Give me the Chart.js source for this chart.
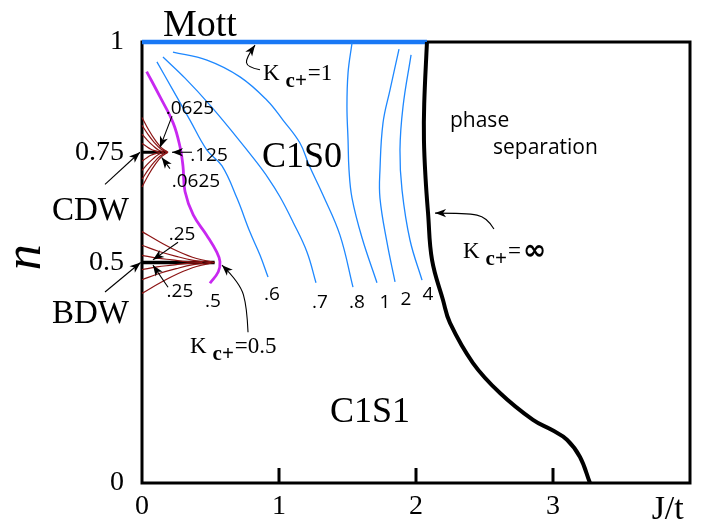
<!DOCTYPE html>
<html><head><meta charset="utf-8">
<script src="https://cdn.jsdelivr.net/npm/chart.js@4"></script>
<style>html,body{margin:0;padding:0;background:#fff}</style>
</head><body>
<canvas id="c" width="701" height="530"></canvas>
<script>
// ---- axes ----
const xTicks = [0, 1, 2, 3];
const yTicks = [0, 0.5, 0.75, 1];
const yTickText = ['0', '0.5', '0.75', '1'];

// ---- phase boundaries ----
const mottLine = [[0, 1], [2.08, 1]];
const separationBoundary = [[2.08,1.0],[2.06,0.86],[2.058,0.778],[2.07,0.69],[2.088,0.612],[2.117,0.506],[2.197,0.415],[2.248,0.363],[2.416,0.272],[2.613,0.204],[2.854,0.143],[2.993,0.120],[3.102,0.098],[3.197,0.059],[3.270,0.0]];
const cdwLine = [[0, 0.75], [0.18, 0.75]];
const bdwLine = [[0, 0.5], [0.53, 0.5]];

// ---- K_c+ contours ----
const kHalf = [[0.034,0.933],[0.131,0.876],[0.228,0.816],[0.277,0.763],[0.299,0.719],[0.314,0.661],[0.374,0.608],[0.472,0.562],[0.545,0.524],[0.569,0.502],[0.557,0.479],[0.496,0.453]];
const k06 = [[0.109,0.955],[0.226,0.891],[0.350,0.823],[0.474,0.755],[0.584,0.719],[0.693,0.646],[0.788,0.569],[0.861,0.517],[0.920,0.467]];
const k07 = [[0.153,0.966],[0.314,0.918],[0.496,0.857],[0.679,0.789],[0.825,0.732],[0.920,0.692],[1.007,0.649],[1.102,0.592],[1.204,0.524],[1.270,0.454]];
const k08 = [[0.226,0.977],[0.474,0.959],[0.715,0.921],[0.912,0.868],[1.029,0.823],[1.153,0.771],[1.219,0.721],[1.321,0.653],[1.445,0.562],[1.540,0.444]];
const k1 = [[1.533,0.998],[1.504,0.930],[1.496,0.853],[1.504,0.778],[1.511,0.710],[1.533,0.646],[1.606,0.556],[1.715,0.454]];
const k2 = [[1.876,0.984],[1.810,0.891],[1.759,0.816],[1.737,0.710],[1.737,0.646],[1.788,0.546],[1.847,0.456]];
const k4 = [[1.964,0.971],[1.905,0.853],[1.883,0.755],[1.898,0.664],[1.956,0.551],[2.044,0.460]];

// ---- order-parameter flow lines near CDW (n=0.75) and BDW (n=0.5) ----
const cdwCurves = [
  [[0,0.829],[0.048,0.801],[0.095,0.778],[0.143,0.760],[0.19,0.75]],
  [[0,0.811],[0.045,0.790],[0.090,0.772],[0.135,0.758],[0.18,0.75]],
  [[0,0.791],[0.040,0.777],[0.080,0.765],[0.120,0.755],[0.16,0.75]],
  [[0,0.770],[0.033,0.763],[0.065,0.757],[0.098,0.753],[0.13,0.75]],
  [[0,0.730],[0.033,0.737],[0.065,0.743],[0.098,0.747],[0.13,0.75]],
  [[0,0.709],[0.040,0.723],[0.080,0.735],[0.120,0.745],[0.16,0.75]],
  [[0,0.689],[0.045,0.710],[0.090,0.728],[0.135,0.742],[0.18,0.75]],
  [[0,0.671],[0.048,0.699],[0.095,0.722],[0.143,0.740],[0.19,0.75]]
];
const bdwCurves = [
  [[0,0.570],[0.133,0.546],[0.265,0.525],[0.398,0.509],[0.53,0.5]],
  [[0,0.539],[0.125,0.525],[0.250,0.514],[0.375,0.505],[0.50,0.5]],
  [[0,0.516],[0.110,0.510],[0.220,0.506],[0.330,0.502],[0.44,0.5]],
  [[0,0.484],[0.110,0.490],[0.220,0.494],[0.330,0.498],[0.44,0.5]],
  [[0,0.461],[0.125,0.475],[0.250,0.486],[0.375,0.495],[0.50,0.5]],
  [[0,0.430],[0.133,0.454],[0.265,0.475],[0.398,0.491],[0.53,0.5]]
];

// ---- text labels (data coords, alphabetic baseline) ----
const serifTexts = [
  ['Mott', 0.153, 1.014, 38], ['C1S0', 0.876, 0.717, 36], ['C1S1', 1.372, 0.139, 36],
  ['CDW', -0.657, 0.596, 33], ['BDW', -0.657, 0.362, 33]
];
const sansTexts = [
  ['phase', 2.248, 0.808, 'left'], ['separation', 2.562, 0.746, 'left']
];
const valueLabels = [
  ['.5',0.518,0.399],['.6',0.949,0.415],['.7',1.299,0.397],['.8',1.569,0.397],['1',1.774,0.397],['2',1.927,0.404],['4',2.088,0.415],
  ['.0625',0.350,0.836],['.125',0.489,0.730],['.0625',0.394,0.671],['.25',0.292,0.551],['.25',0.277,0.422]
];
const kLabels = [['=1', 0.883, 0.914], ['=', 2.343, 0.510, '∞'], ['=0.5', 0.350, 0.295]];
const arrows = [
  [[0.861,0.937],[0.766,0.943],[0.759,0.964],[0.825,0.993]],
  [[2.569,0.576],[2.518,0.603],[2.372,0.612],[2.139,0.612]],
  [[0.774,0.342],[0.766,0.399],[0.715,0.454],[0.584,0.494]],
  [[-0.27,0.677],[-0.015,0.75]],
  [[-0.27,0.433],[-0.01,0.5]],
  [[0.219,0.832],[0.131,0.761]],
  [[0.365,0.75],[0.219,0.75]],
  [[0.204,0.713],[0.144,0.738]],
  [[0.263,0.546],[0.080,0.506]],
  [[0.190,0.444],[0.080,0.494]]
];

const pts = a => a.map(([x, y]) => ({x, y}));
const line = (a, color, w, extra) => Object.assign({data: pts(a), borderColor: color, borderWidth: w, showLine: true, pointRadius: 0, fill: false, clip: false, tension: 0.4}, extra || {});
const RED = 'rgb(140,20,20)', BLUE = 'rgb(30,136,255)', MAG = 'rgb(200,40,240)';
const datasets = [];
cdwCurves.forEach(c => datasets.push(line(c, RED, 1.2)));
bdwCurves.forEach(c => datasets.push(line(c, RED, 1.2)));
[k06, k07, k08, k1, k2, k4].forEach(c => datasets.push(line(c, BLUE, 1.3)));
datasets.push(line(kHalf, MAG, 2.8));
datasets.push(line(cdwLine, '#000', 3, {tension: 0}));
datasets.push(line(bdwLine, '#000', 3.5, {tension: 0}));
datasets.push(line(separationBoundary, '#000', 4));
datasets.push(line(mottLine, 'rgb(25,120,245)', 4.5, {tension: 0}));

function drawArrow(ctx, P) {
  ctx.save();
  ctx.strokeStyle = '#000'; ctx.fillStyle = '#000'; ctx.lineWidth = 1.1;
  ctx.beginPath();
  ctx.moveTo(P[0][0], P[0][1]);
  if (P.length === 2) ctx.lineTo(P[1][0], P[1][1]);
  else {
    for (let i = 1; i < P.length - 1; i++) {
      const mx = (P[i][0] + P[i+1][0]) / 2, my = (P[i][1] + P[i+1][1]) / 2;
      if (i === P.length - 2) ctx.quadraticCurveTo(P[i][0], P[i][1], P[i+1][0], P[i+1][1]);
      else ctx.quadraticCurveTo(P[i][0], P[i][1], mx, my);
    }
  }
  ctx.stroke();
  const a = P[P.length - 2], b = P[P.length - 1];
  const ang = Math.atan2(b[1] - a[1], b[0] - a[0]);
  ctx.translate(b[0], b[1]); ctx.rotate(ang);
  ctx.beginPath();
  ctx.moveTo(0, 0); ctx.lineTo(-11, -4.2); ctx.lineTo(-8, 0); ctx.lineTo(-11, 4.2); ctx.closePath();
  ctx.fill();
  ctx.restore();
}

const overlay = {
  id: 'overlay',
  beforeDatasetsDraw(chart) {
    const {ctx, chartArea: ca} = chart;
    ctx.save();
    ctx.strokeStyle = '#000'; ctx.lineWidth = 3;
    ctx.strokeRect(ca.left, ca.top, ca.right - ca.left, ca.bottom - ca.top);
    const xs = chart.scales.x;
    xTicks.slice(1).forEach(v => {
      const px = xs.getPixelForValue(v);
      ctx.beginPath(); ctx.moveTo(px, ca.bottom); ctx.lineTo(px, ca.bottom - 15); ctx.stroke();
    });
    ctx.restore();
  },
  afterDatasetsDraw(chart) {
    const {ctx} = chart;
    const X = v => chart.scales.x.getPixelForValue(v), Y = v => chart.scales.y.getPixelForValue(v);
    ctx.save();
    ctx.fillStyle = '#000'; ctx.textBaseline = 'alphabetic';
    serifTexts.forEach(([t, x, y, s]) => { ctx.font = s + 'px "Liberation Serif"'; ctx.textAlign = 'left'; ctx.fillText(t, X(x), Y(y)); });
    ctx.font = '21px "Open Sans"';
    sansTexts.forEach(([t, x, y, al]) => { ctx.textAlign = al; ctx.fillText(t, X(x), Y(y)); });
    ctx.font = '19px "Open Sans"'; ctx.textAlign = 'center';
    valueLabels.forEach(([t, x, y]) => ctx.fillText(t, X(x), Y(y)));
    kLabels.forEach(([rest, x, y, sym]) => {
      let px = X(x); const py = Y(y);
      ctx.textAlign = 'left';
      ctx.font = '23px "Liberation Serif"'; ctx.fillText('K', px, py); px += ctx.measureText('K').width + 6;
      ctx.font = 'bold 21px "Liberation Serif"'; ctx.fillText('c+', px, py + 7); px += ctx.measureText('c+').width + 1;
      ctx.font = '23px "Liberation Serif"'; ctx.fillText(rest, px, py); px += ctx.measureText(rest).width + 2;
      if (sym) { ctx.font = 'bold 28px "DejaVu Sans"'; ctx.fillText(sym, px, py + 1); }
    });
    // axis titles
    ctx.font = '34px "Liberation Serif"'; ctx.textAlign = 'left';
    ctx.fillText('J/t', X(3.72), Y(-0.082));
    ctx.save();
    ctx.translate(X(-0.847), Y(0.512)); ctx.rotate(-Math.PI / 2);
    ctx.font = 'italic 52px "Liberation Serif"'; ctx.textAlign = 'center'; ctx.textBaseline = 'middle';
    ctx.fillText('n', 0, 0);
    ctx.restore();
    arrows.forEach(a => drawArrow(ctx, a.map(([x, y]) => [X(x), Y(y)])));
    ctx.restore();
  }
};

new Chart(document.getElementById('c'), {
  type: 'scatter',
  data: {datasets},
  options: {
    responsive: false, animation: false, devicePixelRatio: 1,
    layout: {padding: {left: 0, top: 42, right: 11, bottom: 0}},
    plugins: {legend: {display: false}, tooltip: {enabled: false}},
    scales: {
      x: {type: 'linear', min: 0, max: 4,
        grid: {display: false, drawTicks: false}, border: {display: false},
        afterBuildTicks: s => { s.ticks = xTicks.map(v => ({value: v})); },
        afterFit: s => { s.height = 47; },
        ticks: {font: {family: 'Liberation Serif', size: 28}, color: '#000', padding: 7, maxRotation: 0, autoSkip: false}},
      y: {type: 'linear', min: 0, max: 1,
        grid: {display: false, drawTicks: false}, border: {display: false},
        afterBuildTicks: s => { s.ticks = yTicks.map(v => ({value: v})); },
        afterFit: s => { s.width = 142; },
        ticks: {font: {family: 'Liberation Serif', size: 28}, color: '#000', padding: 18, autoSkip: false,
          callback: v => yTickText[yTicks.indexOf(v)]}}
    }
  },
  plugins: [overlay]
});
</script>
</body></html>
